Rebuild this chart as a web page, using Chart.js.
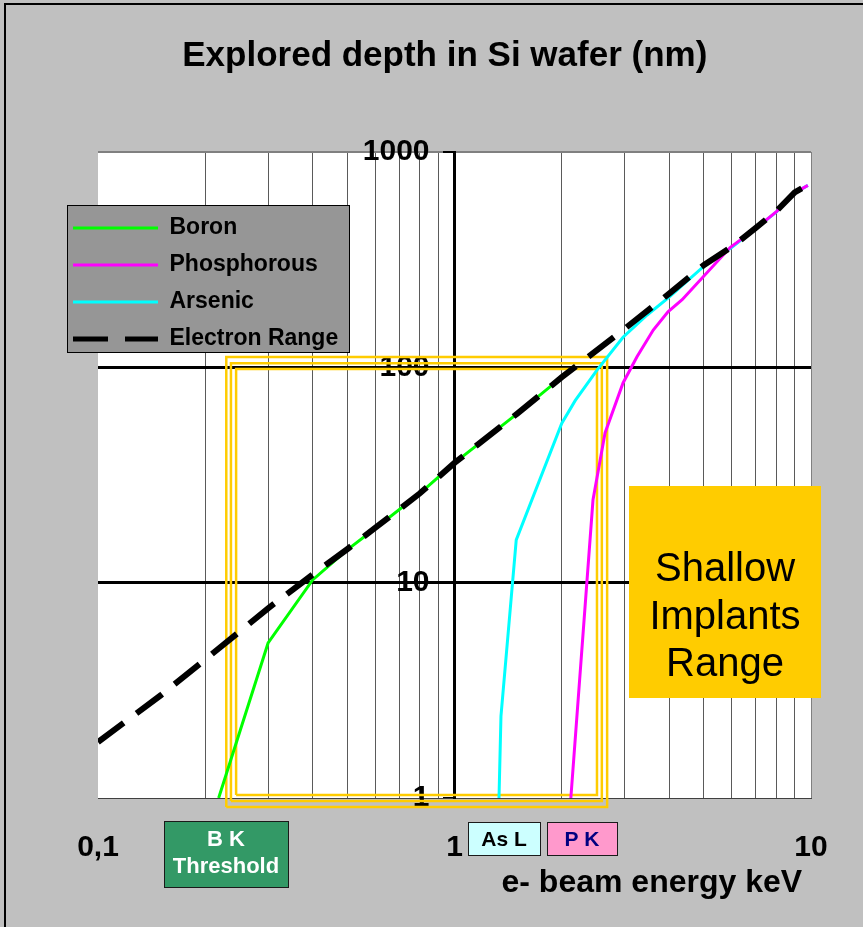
<!DOCTYPE html>
<html>
<head>
<meta charset="utf-8">
<script src="https://cdn.jsdelivr.net/npm/chart.js@4.4.1/dist/chart.umd.min.js"></script>
<style>
html,body{margin:0;padding:0;background:#c0c0c0;}
canvas{display:block;}
</style>
</head>
<body>
<canvas id="c" width="863" height="927"></canvas>
<script>
// ---------- texts ----------
const chartTitle = 'Explored depth in Si wafer (nm)';
const xAxisTitle = 'e- beam energy keV';
const shallowText = ['Shallow', 'Implants', 'Range'];
const bkText = ['B K', 'Threshold'];
const asText = 'As L';
const pkText = 'P K';

// ---------- ticks ----------
const xTickValues = [0.1,0.2,0.3,0.4,0.5,0.6,0.7,0.8,0.9,1,2,3,4,5,6,7,8,9,10];
const xTickShown = [0.1, 1, 10];
const xTickLabels = ['0,1', '1', '10'];
const yTickValues = [1, 10, 100, 1000];
const yTickLabels = ['1', '10', '100', '1000'];

// ---------- series (energy keV, depth nm) ----------
const seriesNames = ['Boron', 'Phosphorous', 'Arsenic', 'Electron Range'];

const boronEnergy = [0.218, 0.3, 0.4, 0.5, 0.6, 0.8, 1, 1.5, 2];
const boronDepth  = [1, 5.25, 10.3, 14.2, 17.9, 26, 36, 61, 90];

const phosEnergy = [2.12, 2.446, 2.644, 2.97, 3.25, 3.61, 3.97, 4.35, 5.93, 7, 8, 9, 9.8];
const phosDepth  = [1, 24.2, 49.6, 84.6, 112, 149, 181, 206, 360, 442, 528, 645, 700];

const arsEnergy = [1.333, 1.35, 1.49, 2.0, 2.18, 2.51, 2.97, 3.47, 4, 5, 6, 7, 8, 9, 9.8];
const arsDepth  = [1, 2.4, 15.8, 55, 70, 97, 138, 175, 212, 294, 361, 442, 527, 645, 700];

const rangeEnergy = [0.1, 0.15, 0.2, 0.3, 0.4, 0.5, 0.6, 0.8, 1, 1.5, 2, 3, 4, 5, 6, 7, 8, 9, 10];
const rangeDepth  = [1.82, 3.0, 4.4, 7.6, 10.9, 14.3, 18.0, 26, 36, 61, 90, 151, 220, 298, 363, 444, 532, 650, 716];

// shallow implants range frame (three nested outlines)
const frameLeft   = [0.229, 0.236, 0.244];
const frameRight  = [2.68, 2.59, 2.51];
const frameBottom = [0.908, 0.968, 1.033];
const frameTop    = [111.7, 104.6, 98.2];

// ---------- helpers ----------
const zip = (xs, ys) => xs.map((x, i) => ({x: x, y: ys[i]}));
const FONT = "'Liberation Sans', Arial, Helvetica, sans-serif";
Chart.defaults.font.family = FONT;
Chart.defaults.color = '#000';

const frameSets = frameLeft.map((l, i) => ({
  label: 'frame' + i,
  inLegend: false,
  data: zip([l, frameRight[i], frameRight[i], l, l],
            [frameBottom[i], frameBottom[i], frameTop[i], frameTop[i], frameBottom[i]]),
  borderColor: '#FFCC00',
  borderWidth: 2.5,
  showLine: true,
  pointRadius: 0,
  clip: false,
  order: 10 + i
}));

const decor = {
  id: 'decor',
  beforeDraw(chart) {
    const {ctx, chartArea: a} = chart;
    ctx.save();
    ctx.fillStyle = '#c0c0c0';
    ctx.fillRect(0, 0, chart.width, chart.height);
    ctx.fillStyle = '#ffffff';
    ctx.fillRect(a.left, a.top, a.right - a.left, a.bottom - a.top);
    ctx.strokeStyle = '#000';
    ctx.lineWidth = 2;
    ctx.strokeRect(5, 4, chart.width + 20, chart.height + 20);
    ctx.restore();
  },
  afterLayout(chart) {
    const lg = chart.legend;
    if (!lg) return;
    lg.left = 59; lg.right = 360; lg.width = 301;
    lg.top = 202.5; lg.bottom = 700; lg.height = 497.5;
    if (!lg._bgWrapped) {
      const orig = lg.draw;
      lg.draw = function (ca) {
        const c = this.ctx;
        c.save();
        c.fillStyle = '#969696';
        c.fillRect(67, 205, 282, 147);
        c.strokeStyle = '#000';
        c.lineWidth = 1;
        c.strokeRect(67.5, 205.5, 282, 147);
        c.restore();
        orig.call(this, ca);
      };
      lg._bgWrapped = true;
    }
  },
  afterDraw(chart) {
    const ctx = chart.ctx;
    ctx.save();
    // Shallow implants range box
    ctx.fillStyle = '#FFCC00';
    ctx.fillRect(629, 486, 192, 212);
    ctx.fillStyle = '#000';
    ctx.font = '40px ' + FONT;
    ctx.textAlign = 'center';
    ctx.textBaseline = 'middle';
    shallowText.forEach((t, i) => ctx.fillText(t, 725, 570 + i * 47.5));
    // B K threshold
    ctx.fillStyle = '#339966';
    ctx.fillRect(164, 821, 124, 66);
    ctx.strokeStyle = '#1a1a1a';
    ctx.lineWidth = 1;
    ctx.strokeRect(164.5, 821.5, 124, 66);
    ctx.fillStyle = '#fff';
    ctx.font = 'bold 22px ' + FONT;
    ctx.fillText(bkText[0], 226, 840);
    ctx.fillText(bkText[1], 226, 867);
    // As L
    ctx.fillStyle = '#CCFFFF';
    ctx.fillRect(468, 822, 72, 33);
    ctx.strokeRect(468.5, 822.5, 72, 33);
    ctx.fillStyle = '#000';
    ctx.font = 'bold 21px ' + FONT;
    ctx.fillText(asText, 504, 840);
    // P K
    ctx.fillStyle = '#FF99CC';
    ctx.fillRect(547, 822, 70, 33);
    ctx.strokeRect(547.5, 822.5, 70, 33);
    ctx.fillStyle = '#000080';
    ctx.fillText(pkText, 582, 840);
    ctx.restore();
  }
};

new Chart(document.getElementById('c'), {
  type: 'scatter',
  data: {
    datasets: [
      {label: seriesNames[0], data: zip(boronEnergy, boronDepth), borderColor: '#00FF00', backgroundColor: '#00FF00', borderWidth: 3, showLine: true, pointRadius: 0, order: 1},
      {label: seriesNames[1], data: zip(phosEnergy, phosDepth), borderColor: '#FF00FF', backgroundColor: '#FF00FF', borderWidth: 3, showLine: true, pointRadius: 0, order: 2},
      {label: seriesNames[2], data: zip(arsEnergy, arsDepth), borderColor: '#00FFFF', backgroundColor: '#00FFFF', borderWidth: 3, showLine: true, pointRadius: 0, order: 3},
      {label: seriesNames[3], data: zip(rangeEnergy, rangeDepth), borderColor: '#000000', backgroundColor: '#000000', borderWidth: 6, borderDash: [32, 16], showLine: true, pointRadius: 0, order: 0, legendDash: [35, 17, 33, 200], legendWidth: 5},
      ...frameSets
    ]
  },
  options: {
    responsive: false,
    animation: false,
    devicePixelRatio: 1,
    layout: {padding: {left: 98, right: 52, top: 0, bottom: 24.8}},
    plugins: {
      tooltip: {enabled: false},
      title: {
        display: true,
        text: chartTitle + '  ',
        color: '#000',
        font: {size: 35, weight: 'bold'},
        padding: {top: 35.5, bottom: 74.5}
      },
      legend: {
        position: 'chartArea',
        align: 'start',
        labels: {
          boxWidth: 85,
          boxHeight: 0,
          padding: 14,
          color: '#000',
          font: {size: 23, weight: 'bold'},
          generateLabels: (chart) => chart.data.datasets
            .map((d, i) => ({
              text: d.label,
              datasetIndex: i,
              fillStyle: 'rgba(0,0,0,0)',
              strokeStyle: d.borderColor,
              lineWidth: d.legendWidth || 3,
              lineDash: d.legendDash || [],
              lineCap: 'butt',
              hidden: false,
              fontColor: '#000',
              inLegend: d.inLegend
            }))
            .filter(it => it.inLegend !== false)
        }
      }
    },
    scales: {
      x: {
        type: 'logarithmic',
        min: 0.1,
        max: 10,
        afterBuildTicks: (s) => { s.ticks = xTickValues.map(v => ({value: v})); },
        ticks: {
          autoSkip: false,
          maxRotation: 0,
          padding: 31.5,
          color: '#000',
          font: {size: 30, weight: 'bold'},
          callback: (v) => { const i = xTickShown.indexOf(v); return i < 0 ? '' : xTickLabels[i]; }
        },
        grid: {
          drawTicks: false,
          color: (c) => (c.tick && c.tick.value === 0.1) ? 'rgba(0,0,0,0)' : (c.tick && c.tick.value === 10 ? '#808080' : '#5a5a5a'),
          lineWidth: 1
        },
        border: {color: '#404040', width: 1},
        title: {
          display: true,
          text: xAxisTitle + ' ',
          align: 'end',
          color: '#000',
          font: {size: 32, weight: 'bold'},
          padding: {top: -33.2, bottom: 0}
        }
      },
      y: {
        type: 'logarithmic',
        position: {x: 1},
        min: 1,
        max: 1000,
        afterBuildTicks: (s) => { s.ticks = yTickValues.map(v => ({value: v})); },
        ticks: {
          autoSkip: false,
          color: '#000',
          font: {size: 30, weight: 'bold'},
          callback: (v) => { const i = yTickValues.indexOf(v); return i < 0 ? '' : yTickLabels[i] + '   '; }
        },
        grid: {
          color: (c) => {
            const v = c.tick && c.tick.value;
            if (v === 10 || v === 100) return '#000';
            if (v === 1000) return '#808080';
            return 'rgba(0,0,0,0)';
          },
          lineWidth: (c) => {
            const v = c.tick && c.tick.value;
            return (v === 10 || v === 100) ? 3 : 2;
          },
          drawTicks: true,
          tickLength: 10,
          tickColor: '#000',
          tickWidth: 2
        },
        border: {color: '#000', width: 3}
      }
    }
  },
  plugins: [decor]
});
</script>
</body>
</html>
